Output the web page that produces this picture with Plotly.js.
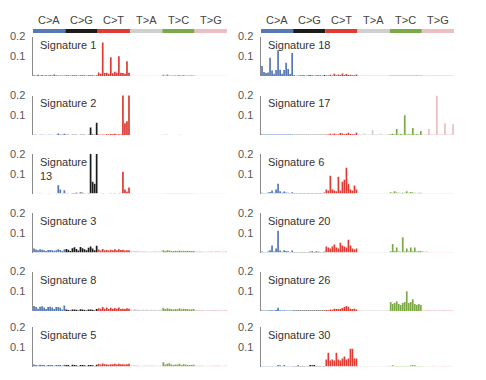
<!DOCTYPE html>
<html><head><meta charset="utf-8">
<script src="https://cdn.plot.ly/plotly-3.0.1.min.js"></script>
<style>html,body{margin:0;padding:0;background:#fff}#chart{width:486px;height:380px}</style>
</head><body><div id="chart"></div>
<script>
// ---- data ----
const bases = ['A','C','G','T'];
const mutTypes = ['C>A','C>G','C>T','T>A','T>C','T>G'];
const mutColors = ['#5679b6','#1c1c1c','#df3b34','#cfcfcf','#7caa48','#ecbfc4'];

const leftNames = ['Signature 1','Signature 2','Signature<br>13','Signature 3','Signature 8','Signature 5'];
const rightNames = ['Signature 18','Signature 17','Signature 6','Signature 20','Signature 26','Signature 30'];

const sig1 = [
 0.004,0.002,0.006,0.003,0.005,0.003,0.004,0.003,0.005,0.003,0.007,0.004,0.003,0.003,0.002,0.003,
 0.002,0.002,0.001,0.002,0.002,0.002,0.001,0.002,0.002,0.002,0.001,0.002,0.002,0.002,0.001,0.002,
 0.018,0.012,0.170,0.015,0.016,0.012,0.095,0.014,0.022,0.016,0.100,0.016,0.015,0.012,0.075,0.016,
 0.001,0.001,0.001,0.001,0.001,0.001,0.001,0.001,0.001,0.001,0.001,0.001,0.001,0.001,0.001,0.001,
 0.006,0.002,0.007,0.003,0.003,0.002,0.004,0.002,0.005,0.002,0.005,0.003,0.003,0.002,0.004,0.002,
 0.001,0.001,0.001,0.001,0.001,0.001,0.001,0.001,0.001,0.001,0.001,0.001,0.001,0.001,0.001,0.001];
const sig2 = [
 0.001,0.001,0.000,0.001,0.001,0.001,0.000,0.001,0.001,0.001,0.000,0.001,0.008,0.002,0.001,0.006,
 0.001,0.001,0.000,0.001,0.001,0.001,0.000,0.001,0.001,0.001,0.000,0.001,0.038,0.003,0.001,0.062,
 0.002,0.001,0.003,0.001,0.004,0.002,0.005,0.004,0.006,0.002,0.004,0.003,0.290,0.060,0.070,0.240,
 0.000,0.000,0.000,0.000,0.000,0.000,0.000,0.000,0.000,0.000,0.000,0.000,0.000,0.000,0.000,0.000,
 0.001,0.000,0.001,0.000,0.000,0.000,0.000,0.000,0.001,0.000,0.000,0.000,0.000,0.000,0.000,0.000,
 0.000,0.000,0.000,0.000,0.000,0.000,0.000,0.000,0.000,0.000,0.000,0.000,0.000,0.000,0.000,0.000];
const sig13 = [
 0.000,0.000,0.000,0.001,0.001,0.000,0.000,0.001,0.001,0.000,0.000,0.001,0.042,0.020,0.002,0.016,
 0.001,0.001,0.000,0.002,0.002,0.004,0.001,0.005,0.004,0.001,0.000,0.002,0.260,0.060,0.050,0.230,
 0.000,0.000,0.002,0.000,0.000,0.000,0.002,0.000,0.002,0.000,0.002,0.000,0.110,0.020,0.010,0.030,
 0.001,0.001,0.001,0.001,0.001,0.001,0.001,0.001,0.001,0.001,0.001,0.001,0.001,0.001,0.001,0.001,
 0.001,0.001,0.001,0.001,0.001,0.001,0.001,0.001,0.001,0.001,0.001,0.001,0.001,0.001,0.001,0.001,
 0.001,0.001,0.001,0.001,0.001,0.001,0.001,0.001,0.001,0.001,0.001,0.001,0.001,0.001,0.001,0.001];
const sig3 = [
 0.020,0.015,0.012,0.016,0.014,0.012,0.008,0.013,0.013,0.011,0.009,0.012,0.016,0.013,0.008,0.015,
 0.018,0.014,0.008,0.022,0.026,0.018,0.010,0.028,0.022,0.016,0.012,0.024,0.030,0.020,0.012,0.034,
 0.015,0.010,0.018,0.012,0.013,0.010,0.014,0.012,0.016,0.011,0.016,0.013,0.014,0.010,0.012,0.012,
 0.008,0.006,0.007,0.008,0.006,0.005,0.006,0.006,0.005,0.004,0.005,0.005,0.006,0.005,0.005,0.006,
 0.012,0.008,0.011,0.010,0.008,0.007,0.009,0.008,0.010,0.007,0.009,0.008,0.009,0.007,0.008,0.008,
 0.006,0.005,0.006,0.006,0.004,0.004,0.005,0.005,0.006,0.004,0.006,0.006,0.005,0.004,0.005,0.006];
const sig8 = [
 0.025,0.020,0.012,0.022,0.024,0.018,0.010,0.020,0.022,0.018,0.010,0.020,0.020,0.016,0.008,0.028,
 0.007,0.005,0.003,0.008,0.008,0.006,0.003,0.009,0.007,0.005,0.003,0.008,0.008,0.006,0.003,0.010,
 0.014,0.012,0.020,0.012,0.018,0.010,0.016,0.012,0.015,0.012,0.018,0.010,0.012,0.010,0.014,0.012,
 0.008,0.006,0.010,0.008,0.006,0.005,0.007,0.006,0.007,0.005,0.006,0.006,0.006,0.005,0.006,0.008,
 0.016,0.010,0.014,0.012,0.010,0.008,0.010,0.009,0.014,0.009,0.012,0.010,0.010,0.008,0.009,0.010,
 0.005,0.004,0.005,0.005,0.004,0.003,0.004,0.004,0.005,0.004,0.005,0.004,0.004,0.003,0.004,0.005];
const sig5 = [
 0.010,0.008,0.005,0.009,0.008,0.007,0.004,0.008,0.008,0.007,0.004,0.008,0.007,0.007,0.004,0.009,
 0.008,0.007,0.003,0.009,0.007,0.006,0.003,0.008,0.007,0.006,0.003,0.007,0.007,0.006,0.003,0.009,
 0.014,0.010,0.015,0.012,0.012,0.009,0.012,0.011,0.014,0.010,0.014,0.012,0.012,0.010,0.012,0.014,
 0.006,0.005,0.006,0.006,0.004,0.004,0.004,0.005,0.005,0.004,0.005,0.005,0.004,0.004,0.004,0.005,
 0.022,0.010,0.014,0.016,0.010,0.008,0.010,0.010,0.014,0.008,0.012,0.010,0.008,0.007,0.008,0.009,
 0.005,0.004,0.005,0.005,0.004,0.003,0.004,0.004,0.004,0.004,0.005,0.005,0.004,0.003,0.004,0.005];
const sig18 = [
 0.050,0.020,0.015,0.018,0.093,0.028,0.012,0.030,0.130,0.032,0.012,0.030,0.067,0.035,0.010,0.117,
 0.002,0.001,0.001,0.002,0.003,0.002,0.001,0.003,0.004,0.002,0.001,0.003,0.003,0.002,0.001,0.004,
 0.004,0.003,0.006,0.003,0.012,0.004,0.008,0.005,0.013,0.005,0.010,0.005,0.006,0.004,0.004,0.008,
 0.002,0.002,0.002,0.002,0.002,0.002,0.002,0.002,0.002,0.002,0.002,0.002,0.002,0.002,0.002,0.002,
 0.003,0.003,0.003,0.003,0.003,0.003,0.003,0.003,0.003,0.003,0.003,0.003,0.003,0.003,0.003,0.003,
 0.002,0.002,0.002,0.002,0.002,0.002,0.002,0.002,0.002,0.002,0.002,0.002,0.002,0.002,0.002,0.002];
const sig17 = [
 0.002,0.002,0.002,0.002,0.002,0.002,0.002,0.002,0.002,0.002,0.002,0.002,0.002,0.002,0.002,0.002,
 0.001,0.001,0.001,0.001,0.001,0.001,0.001,0.001,0.001,0.001,0.001,0.001,0.001,0.001,0.001,0.001,
 0.003,0.002,0.006,0.003,0.008,0.003,0.004,0.010,0.008,0.004,0.006,0.012,0.005,0.004,0.004,0.012,
 0.002,0.002,0.002,0.008,0.002,0.002,0.002,0.025,0.002,0.002,0.002,0.006,0.002,0.002,0.002,0.004,
 0.004,0.006,0.003,0.030,0.003,0.005,0.003,0.100,0.003,0.004,0.003,0.035,0.002,0.004,0.003,0.020,
 0.002,0.002,0.002,0.030,0.002,0.002,0.002,0.200,0.002,0.002,0.002,0.060,0.002,0.002,0.002,0.055];
const sig6 = [
 0.004,0.003,0.002,0.005,0.008,0.015,0.004,0.020,0.050,0.012,0.004,0.010,0.005,0.004,0.002,0.006,
 0.002,0.002,0.001,0.003,0.003,0.002,0.001,0.003,0.003,0.002,0.001,0.003,0.003,0.002,0.001,0.004,
 0.020,0.015,0.090,0.020,0.015,0.012,0.085,0.015,0.060,0.070,0.130,0.050,0.020,0.015,0.040,0.020,
 0.002,0.002,0.002,0.002,0.002,0.002,0.002,0.002,0.002,0.002,0.002,0.002,0.002,0.002,0.002,0.002,
 0.006,0.004,0.012,0.005,0.004,0.003,0.004,0.004,0.012,0.004,0.008,0.005,0.004,0.003,0.004,0.004,
 0.002,0.002,0.002,0.002,0.002,0.002,0.002,0.002,0.002,0.002,0.002,0.002,0.002,0.002,0.002,0.002];
const sig20 = [
 0.005,0.003,0.003,0.005,0.012,0.035,0.005,0.020,0.110,0.010,0.004,0.012,0.008,0.006,0.003,0.010,
 0.002,0.002,0.001,0.002,0.003,0.002,0.001,0.003,0.004,0.005,0.002,0.005,0.004,0.003,0.001,0.004,
 0.030,0.025,0.020,0.030,0.040,0.025,0.020,0.050,0.035,0.030,0.025,0.065,0.035,0.020,0.015,0.020,
 0.002,0.002,0.002,0.002,0.002,0.002,0.002,0.002,0.002,0.002,0.002,0.002,0.002,0.002,0.002,0.002,
 0.006,0.043,0.008,0.025,0.005,0.004,0.077,0.005,0.020,0.005,0.025,0.006,0.025,0.005,0.008,0.006,
 0.008,0.004,0.006,0.003,0.003,0.003,0.003,0.003,0.003,0.003,0.003,0.003,0.003,0.003,0.003,0.003];
const sig26 = [
 0.003,0.002,0.002,0.003,0.004,0.004,0.002,0.005,0.017,0.004,0.002,0.004,0.003,0.003,0.002,0.003,
 0.002,0.002,0.002,0.002,0.002,0.002,0.002,0.002,0.002,0.002,0.002,0.002,0.002,0.002,0.002,0.002,
 0.005,0.004,0.008,0.006,0.012,0.010,0.010,0.012,0.015,0.020,0.025,0.022,0.012,0.010,0.012,0.008,
 0.002,0.002,0.002,0.002,0.002,0.002,0.002,0.002,0.002,0.002,0.002,0.002,0.002,0.002,0.002,0.002,
 0.045,0.035,0.040,0.050,0.035,0.030,0.040,0.045,0.100,0.040,0.045,0.060,0.035,0.030,0.035,0.030,
 0.004,0.003,0.005,0.004,0.003,0.003,0.004,0.003,0.004,0.003,0.005,0.004,0.003,0.003,0.004,0.003];
const sig30 = [
 0.002,0.002,0.001,0.002,0.003,0.002,0.001,0.002,0.008,0.006,0.002,0.008,0.003,0.002,0.001,0.003,
 0.002,0.002,0.005,0.002,0.002,0.002,0.001,0.002,0.008,0.006,0.008,0.002,0.002,0.002,0.001,0.002,
 0.035,0.070,0.030,0.035,0.030,0.070,0.035,0.030,0.040,0.050,0.035,0.040,0.090,0.090,0.040,0.040,
 0.002,0.002,0.002,0.002,0.002,0.002,0.002,0.002,0.002,0.002,0.002,0.002,0.002,0.002,0.004,0.004,
 0.002,0.006,0.002,0.002,0.002,0.002,0.002,0.002,0.002,0.002,0.006,0.006,0.006,0.002,0.002,0.002,
 0.002,0.002,0.003,0.002,0.002,0.004,0.002,0.002,0.002,0.002,0.004,0.002,0.002,0.002,0.004,0.002];

const leftData = [sig1, sig2, sig13, sig3, sig8, sig5];
const rightData = [sig18, sig17, sig6, sig20, sig26, sig30];

// ---- derived ----
const contexts = [], barColors = [];
mutTypes.forEach((m, k) => bases.forEach(a => bases.forEach(b => {
  contexts.push(a + '[' + m + ']' + b); barColors.push(mutColors[k]);
})));

// ---- layout geometry ----
const W = 486, H = 380;
const colX = [[33, 227], [261, 454]];
const rowBase = [76, 135, 193.5, 252.5, 311, 366.5];
const panelH = 39.5;
const FONT = 'Liberation Sans, Arial, sans-serif';

const traces = [];
const layout = {
  width: W, height: H, margin: {l: 0, r: 0, t: 0, b: 0},
  paper_bgcolor: '#ffffff', plot_bgcolor: 'rgba(0,0,0,0)',
  showlegend: false, bargap: 0.15, font: {family: FONT},
  annotations: [], shapes: []
};

[[leftNames, leftData], [rightNames, rightData]].forEach(([names, datas], c) => {
  datas.forEach((vals, r) => {
    const n = c * 6 + r + 1;
    const s = n === 1 ? '' : String(n);
    layout['xaxis' + s] = {
      domain: [colX[c][0] / W, colX[c][1] / W], range: [-0.5, 95.5], type: 'category',
      showticklabels: false, showline: false, showgrid: false, zeroline: false, ticks: '',
      anchor: 'y' + s, fixedrange: true
    };
    layout['yaxis' + s] = {
      domain: [1 - rowBase[r] / H, 1 - (rowBase[r] - panelH) / H], range: [0, 0.2],
      tickvals: [0.1, 0.2], ticktext: ['0.1', '0.2'], showline: true, linecolor: '#8a8a8a',
      linewidth: 1.5, showgrid: false, zeroline: false, ticks: '', ticklabelstandoff: 4,
      tickfont: {size: 11, color: '#555', family: FONT}, anchor: 'x' + s, fixedrange: true
    };
    traces.push({
      type: 'bar', x: contexts, y: vals, xaxis: 'x' + s, yaxis: 'y' + s,
      marker: {color: barColors, line: {width: 0}}, hoverinfo: 'skip', showlegend: false
    });
    layout.annotations.push({
      xref: 'x' + s + ' domain', yref: 'y' + s + ' domain', x: 0.025, y: 1.0,
      xanchor: 'left', yanchor: 'top', align: 'left', showarrow: false,
      text: names[r], font: {size: 11, color: '#333', family: FONT}
    });
  });
  const topX = c === 0 ? 'x' : 'x7';
  mutTypes.forEach((m, k) => {
    layout.shapes.push({
      type: 'rect', xref: topX, yref: 'paper', x0: k * 16 - 0.5, x1: k * 16 + 15.5,
      y0: 1 - 33 / H, y1: 1 - 29 / H, fillcolor: mutColors[k], line: {width: 0}
    });
    layout.annotations.push({
      xref: topX, yref: 'paper', x: k * 16 + 7.5, y: 1 - 20 / H, xanchor: 'center', yanchor: 'middle',
      showarrow: false, text: m, font: {size: 11, color: '#444', family: FONT}
    });
  });
});

Plotly.newPlot('chart', traces, layout, {staticPlot: true, displayModeBar: false});
</script></body></html>
